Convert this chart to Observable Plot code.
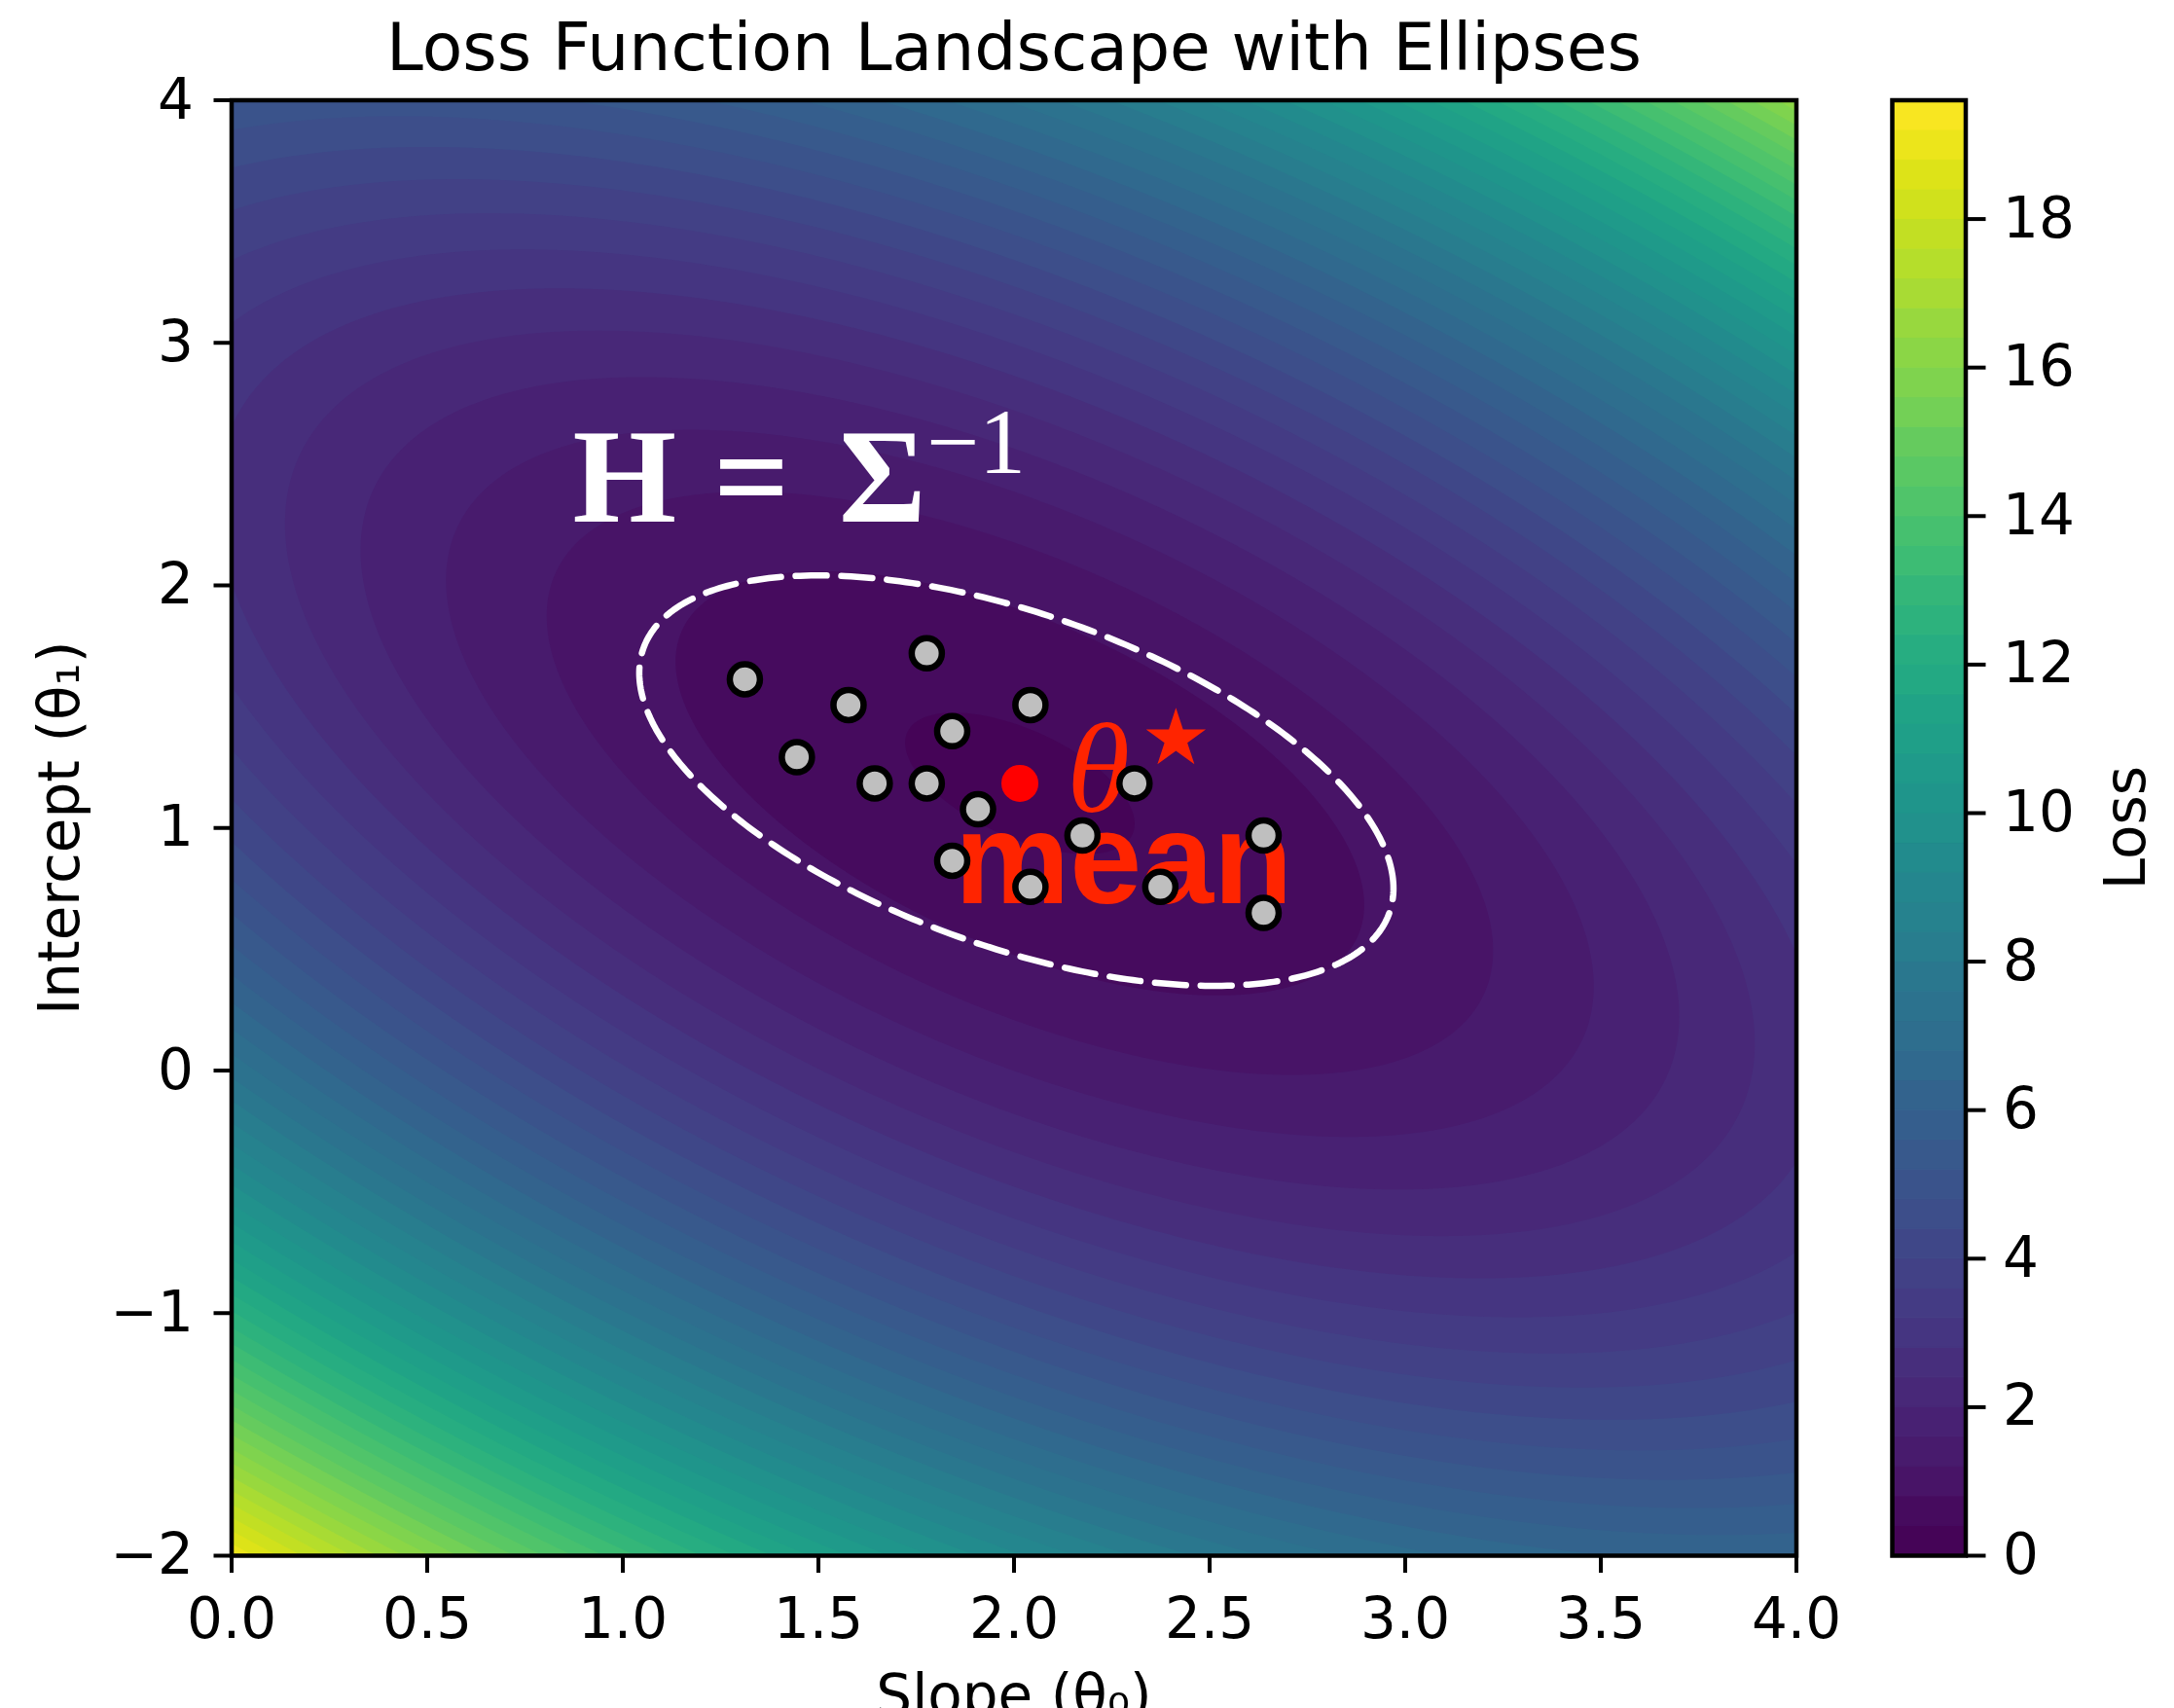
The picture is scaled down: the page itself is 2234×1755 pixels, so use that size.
<!DOCTYPE html>
<html><head><meta charset="utf-8">
<script src="https://cdn.jsdelivr.net/npm/d3@7"></script>
<script src="https://cdn.jsdelivr.net/npm/@observablehq/plot@0.6"></script>
<style>
html,body{margin:0;padding:0;background:#fff;}
#wrap{position:relative;width:2234px;height:1755px;overflow:hidden;background:#fff;}
#main,#cbar{position:absolute;top:0;}
#main{left:0;} #cbar{left:1900px;}
</style></head><body><div id="wrap"><div id="main"></div><div id="cbar"></div></div>
<script>
// ---- texts ----
const titleText = "Loss Function Landscape with Ellipses";
const xLabel = "Slope (θ₀)";
const yLabel = "Intercept (θ₁)";
const colorbarLabel = "Loss";

// ---- ticks ----
const xTicks = [0, 0.5, 1, 1.5, 2, 2.5, 3, 3.5, 4];
const yTicks = [-2, -1, 0, 1, 2, 3, 4];
const cbarTicks = [0, 2, 4, 6, 8, 10, 12, 14, 16, 18];

// ---- contour levels (filled bands, 0.4 apart, 0 .. 19.6) ----
const levelStep = 0.4;
const levelMax = 19.6;
const levels = d3.range(0, levelMax + 1e-9, levelStep);

// ---- loss landscape (quadratic bowl) ----
const lossMin = {slope: 2.015, intercept: 1.184, value: 0.35};
const lossCurv = {ss: 0.866, si: 0.5, ii: 0.877};
function loss(s, i) {
  const ds = s - lossMin.slope, di = i - lossMin.intercept;
  return lossMin.value + lossCurv.ss * ds * ds + 2 * lossCurv.si * ds * di + lossCurv.ii * di * di;
}

// ---- sample points ----
const sampleSlope = [1.312, 1.777, 2.042, 1.577, 1.842, 1.445, 1.644, 1.777, 1.908, 2.308, 2.175, 2.638, 1.842, 2.042, 2.374, 2.638];
const sampleIntercept = [1.613, 1.720, 1.507, 1.507, 1.399, 1.292, 1.184, 1.184, 1.077, 1.184, 0.969, 0.969, 0.865, 0.757, 0.757, 0.650];
const points = sampleSlope.map((s, k) => ({slope: s, intercept: sampleIntercept[k]}));

// ---- mean (theta*) ----
const meanPoint = [{slope: 2.015, intercept: 1.184}];

// ---- dashed covariance ellipse ----
const ellipse = {cx: 2.006, cy: 1.195, sxx: 0.2323, sxy: -0.107, syy: 0.1789, nStd: 2};
const l11 = Math.sqrt(ellipse.sxx), l21 = ellipse.sxy / l11, l22 = Math.sqrt(ellipse.syy - l21 * l21);
const ellipsePts = d3.range(0, 361, 1).map(deg => {
  const t = deg * Math.PI / 180, u = Math.cos(t), v = Math.sin(t);
  return {slope: ellipse.cx + ellipse.nStd * l11 * u, intercept: ellipse.cy + ellipse.nStd * (l21 * u + l22 * v)};
});

// ---- annotations ----
const hessLabel = [
  {text: "H", slope: 0.872, intercept: 2.261},
  {text: "=", slope: 1.232, intercept: 2.261},
  {text: "Σ", slope: 1.552, intercept: 2.261}
];
const hessSup = [{text: "−1", slope: 1.776, intercept: 2.462}];
const thetaLabel = [{text: "θ", slope: 2.135, intercept: 1.066}];
const starLabel = [{text: "★", slope: 2.414, intercept: 1.365}];
const meanLabel = [{text: "mean", slope: 1.848, intercept: 0.689}];

const colorScale = {type: "linear", scheme: "viridis", domain: [-levelStep / 2, levelMax - levelStep / 2]};
const FS = 58;
const redText = "#ff2400";
const sansBold = "'Liberation Sans', Arimo, Arial, Helvetica, sans-serif";

const main = Plot.plot({
  width: 1900, height: 1755,
  marginLeft: 237.5, marginRight: 54.5, marginTop: 102.5, marginBottom: 157,
  style: {fontFamily: "DejaVu Sans", fontSize: FS + "px", color: "black", background: "transparent"},
  x: {domain: [0, 4]},
  y: {domain: [-2, 4]},
  color: colorScale,
  marks: [
    Plot.contour({fill: (x, y) => loss(x, y), x1: 0, x2: 4, y1: -2, y2: 4, thresholds: levels, stroke: "none", pixelSize: 2}),
    Plot.line(ellipsePts, {x: "slope", y: "intercept", stroke: "white", strokeWidth: 6.5, strokeDasharray: "32,15"}),
    Plot.text(hessLabel, {x: "slope", y: "intercept", text: "text", fill: "white", fontFamily: "Liberation Serif", fontWeight: "bold", fontSize: 137, textAnchor: "start", lineAnchor: "bottom"}),
    Plot.text(hessSup, {x: "slope", y: "intercept", text: "text", fill: "white", fontFamily: "Liberation Serif", fontSize: 96, textAnchor: "start", lineAnchor: "bottom"}),
    Plot.text(thetaLabel, {x: "slope", y: "intercept", text: "text", fill: redText, fontFamily: "Liberation Serif", fontStyle: "italic", fontSize: 132, textAnchor: "start", lineAnchor: "bottom"}),
    Plot.text(starLabel, {x: "slope", y: "intercept", text: "text", fill: redText, fontFamily: "DejaVu Sans", fontSize: 80, textAnchor: "middle", lineAnchor: "middle"}),
    Plot.text(meanLabel, {x: "slope", y: "intercept", text: "text", fill: redText, fontFamily: sansBold, fontWeight: "bold", fontSize: 133, textAnchor: "start", lineAnchor: "bottom"}),
    Plot.dot(meanPoint, {x: "slope", y: "intercept", r: 19, fill: "#ff0000"}),
    Plot.dot(points, {x: "slope", y: "intercept", r: 15.5, fill: "#bfbfbf", stroke: "black", strokeWidth: 6.5}),
    Plot.axisX({ticks: xTicks, tickFormat: ".1f", tickSize: 18, tickPadding: 25, strokeWidth: 4, fontSize: FS, label: null}),
    Plot.axisY({ticks: yTicks, tickFormat: "d", tickSize: 18, tickPadding: 21, strokeWidth: 4, fontSize: FS, label: null}),
    Plot.frame({stroke: "black", strokeWidth: 4.5}),
    Plot.text([titleText], {text: d => d, frameAnchor: "top", dy: -31.5, textAnchor: "middle", lineAnchor: "bottom", fontSize: 68}),
    Plot.text([xLabel], {text: d => d, frameAnchor: "bottom", dy: 122, textAnchor: "middle", lineAnchor: "top", fontSize: FS}),
    Plot.text([yLabel], {text: d => d, frameAnchor: "left", dx: -157.5, rotate: -90, textAnchor: "middle", lineAnchor: "bottom", fontSize: FS})
  ]
});
document.getElementById("main").appendChild(main);

const bands = levels.slice(0, -1);
const cbar = Plot.plot({
  width: 334, height: 1755,
  marginLeft: 44, marginRight: 214.5, marginTop: 102.5, marginBottom: 157,
  style: {fontFamily: "DejaVu Sans", fontSize: FS + "px", color: "black", background: "transparent"},
  y: {domain: [0, levelMax]},
  color: colorScale,
  marks: [
    Plot.rect(bands, {y1: d => d, y2: d => d + levelStep, fill: d => d, stroke: d => d, strokeWidth: 1}),
    Plot.axisY({anchor: "right", ticks: cbarTicks, tickFormat: "d", tickSize: 20, tickPadding: 18, strokeWidth: 4, fontSize: FS, label: null}),
    Plot.frame({stroke: "black", strokeWidth: 4.5}),
    Plot.text([colorbarLabel], {text: d => d, frameAnchor: "right", dx: 183.5, rotate: -90, textAnchor: "middle", lineAnchor: "bottom", fontSize: FS})
  ]
});
document.getElementById("cbar").appendChild(cbar);
</script></body></html>
